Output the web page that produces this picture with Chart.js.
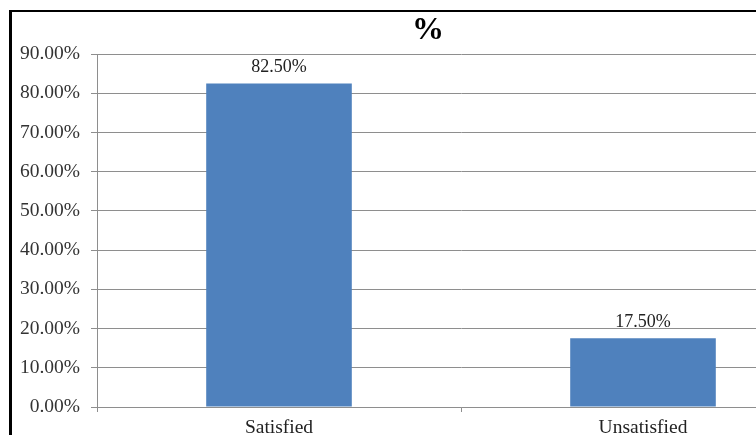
<!DOCTYPE html>
<html>
<head>
<meta charset="utf-8">
<title>%</title>
<script src="https://cdn.jsdelivr.net/npm/chart.js@4/dist/chart.umd.min.js"></script>
<style>
  html, body { margin: 0; padding: 0; background: #fff; overflow: hidden; width: 756px; height: 435px; }
  #frame {
    position: absolute; left: 9px; top: 10px; width: 900px; height: 500px;
    border-top: 2px solid #000; border-left: 3px solid #000;
  }
  #chart { position: absolute; left: 12px; top: 12px; }
</style>
</head>
<body>
<div id="frame"></div>
<canvas id="chart" width="831" height="440"></canvas>
<script>
// Survey result: share of respondents (percent)
const categories = ['Satisfied', 'Unsatisfied'];
const shares = [82.5, 17.5];
const axisMax = 90;
const axisStep = 10;

const pct = v => Number(v).toFixed(2) + '%';
const serif = '"Liberation Serif", "Times New Roman", serif';

// Writes each bar's value just above its top
const valueLabels = {
  id: 'valueLabels',
  afterDatasetsDraw(chart) {
    const ctx = chart.ctx;
    const meta = chart.getDatasetMeta(0);
    ctx.save();
    ctx.font = '18px ' + serif;
    ctx.fillStyle = '#222';
    ctx.textAlign = 'center';
    ctx.textBaseline = 'alphabetic';
    meta.data.forEach((bar, i) => {
      ctx.fillText(pct(shares[i]), bar.x, bar.y - 11);
    });
    ctx.restore();
  }
};

// Centres the title over the whole frame rather than the plot width
const titleShift = {
  id: 'titleShift',
  afterLayout(chart) {
    const t = chart.titleBlock;
    if (t) { t.left += 9.5; t.right += 9.5; }
  }
};

new Chart(document.getElementById('chart'), {
  type: 'bar',
  data: {
    labels: categories,
    datasets: [{
      data: shares,
      backgroundColor: '#4F81BD',
      borderWidth: 0,
      barPercentage: 0.4,
      categoryPercentage: 1.0
    }]
  },
  options: {
    responsive: false,
    animation: false,
    layout: { padding: { left: 0, right: 18, top: 0, bottom: 0 } },
    plugins: {
      legend: { display: false },
      tooltip: { enabled: false },
      title: {
        display: true,
        text: '%',
        color: '#000',
        font: { family: serif, size: 32, weight: 'bold' },
        padding: { top: 0, bottom: 3.6 }
      }
    },
    scales: {
      x: {
        grid: {
          display: true,
          drawOnChartArea: false,
          drawTicks: true,
          tickLength: 5,
          color: '#8e8e8e',
          offset: true
        },
        border: { display: true, color: '#8e8e8e', width: 1 },
        ticks: {
          color: '#222',
          font: { family: serif, size: 19.5 },
          padding: 4,
          maxRotation: 0
        },
        afterFit(scale) { scale.height = 45; }
      },
      y: {
        min: 0,
        max: axisMax,
        grid: {
          color: '#8e8e8e',
          tickLength: 6,
          drawTicks: true
        },
        border: { display: true, color: '#8e8e8e', width: 1 },
        ticks: {
          stepSize: axisStep,
          color: '#333',
          font: { family: serif, size: 19.5 },
          padding: 11,
          callback: v => pct(v)
        },
        afterFit(scale) { scale.width = 85; }
      }
    }
  },
  plugins: [valueLabels, titleShift]
});
</script>
</body>
</html>
